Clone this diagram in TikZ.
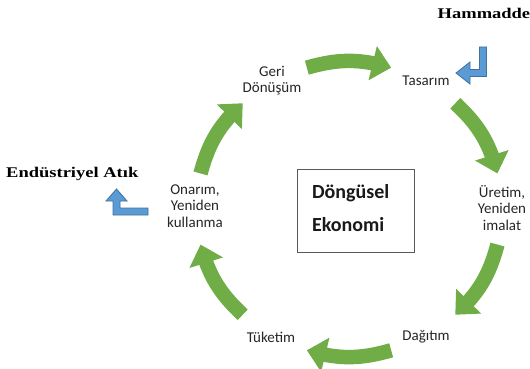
\documentclass[tikz,border=0pt]{standalone}
\usepackage{fontspec}
\setmainfont{Carlito}
\newfontfamily\headfont{Liberation Serif}[FakeStretch=1.25]
\usetikzlibrary{arrows.meta,bending}
\definecolor{cgreen}{HTML}{70AD47}
\definecolor{cblue}{HTML}{5B9BD5}
\definecolor{cblueline}{HTML}{41719C}
\definecolor{ctext}{HTML}{262626}
\tikzset{
  lbl/.style={align=center, text=ctext, font=\fontsize{15}{16.5}\selectfont, inner sep=0},
  sidelbl/.style={anchor=base west, inner sep=0, text=black, font=\headfont\bfseries\fontsize{14.8}{16}\selectfont},
  garrow/.style={draw=cgreen, line width=14.5pt, -{Triangle[length=19pt,width=34pt]}},
  barrow/.style={fill=cblue, draw=cblueline, line width=0.8pt, line join=miter},
  centerbox/.style={draw=black!65, line width=1pt, minimum width=117pt, minimum height=83pt,
    text width=87pt, align=left, inner sep=0, text=black!90,
    font=\bfseries\fontsize{20}{33}\selectfont}
}
\begin{document}
\begin{tikzpicture}[x=1pt,y=1pt]
\useasboundingbox (0,0) rectangle (530,-369);
% labels
\node[lbl] (geri)    at (272,-80.5) {Geri\\Dönüşüm};
\node[lbl] (tasarim) at (426,-81)   {Tasarım};
\node[lbl] (uretim)  at (502,-208)  {Üretim,\\Yeniden\\imalat};
\node[lbl] (dagitim) at (426,-337)  {Dağıtım};
\node[lbl] (tuketim) at (271,-337)  {Tüketim};
\node[lbl] (onarim)  at (195,-206)  {Onarım,\\Yeniden\\kullanma};
% centre
\node[centerbox] (eko) at (355.5,-210.5) {Döngüsel\\Ekonomi\rule[-6pt]{0pt}{6pt}};
% side texts
\node[sidelbl] (hammadde) at (437.5,-18.5) {Hammadde};
\node[sidelbl] (atik) at (6,-177.7) {Endüstriyel Atık};
% green cycle arrows
\def\cx{349}\def\cy{-209}\def\rx{153}\def\ry{147}
\foreach \c/\n in {90/a,30/b,-30/c,-90/d,-150/e,150/f}{
  \coordinate (s\n) at ({\cx+\rx*cos(\c+16)},{\cy+\ry*sin(\c+16)});
  \coordinate (t\n) at ({\cx+\rx*cos(\c-16)},{\cy+\ry*sin(\c-16)});
}
\foreach \n in {a,b,c,d,e,f}{
  \draw[garrow] (s\n) to[bend left=16] (t\n);
}
% blue arrows
\draw[barrow] (479.5,-47) -- (486.5,-47) -- (486.5,-76.5) -- (470,-76.5) -- (470,-84)
  -- (456,-73) -- (470,-62) -- (470,-69.5) -- (479.5,-69.5) -- cycle;
\draw[barrow] (116.5,-189) -- (127,-201) -- (120,-201) -- (120,-208) -- (148,-208)
  -- (148,-215) -- (113,-215) -- (113,-201) -- (106,-201) -- cycle;
\end{tikzpicture}
\end{document}
